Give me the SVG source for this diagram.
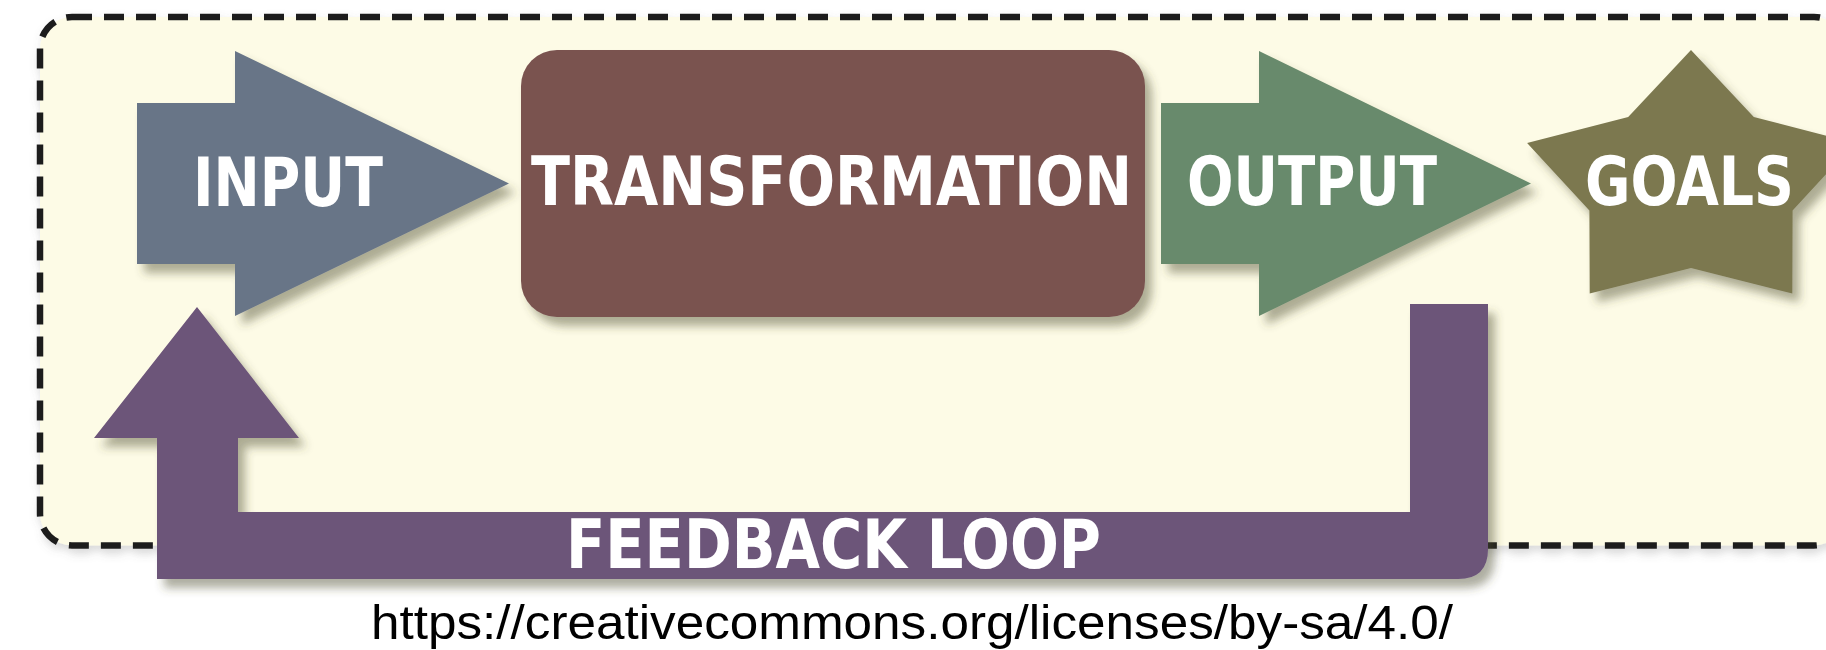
<svg xmlns="http://www.w3.org/2000/svg" width="1826" height="650" viewBox="0 0 1826 650">
  <defs>
    <filter id="shadow" x="-10%" y="-10%" width="130%" height="140%">
      <feDropShadow dx="7" dy="9" stdDeviation="5" flood-color="#4a4a2a" flood-opacity="0.45"/>
    </filter>
    <filter id="shadowSoft" x="-5%" y="-10%" width="110%" height="130%">
      <feDropShadow dx="2" dy="5" stdDeviation="4" flood-color="#666666" flood-opacity="0.25"/>
    </filter>
  </defs>
  <style>
    .label { font-family: "DejaVu Sans Condensed", "DejaVu Sans", "Liberation Sans", sans-serif; font-weight: bold; font-size: 67px; fill: #ffffff; }
    .url { font-family: "Liberation Sans", Arial, sans-serif; font-size: 49px; fill: #000000; }
    .frame { fill: #fdfbe6; stroke: #1e1e1e; stroke-width: 6.5; stroke-dasharray: 20 12; }
  </style>
  <rect width="1826" height="650" fill="#ffffff"/>
  <g id="system-boundary" filter="url(#shadowSoft)">
    <rect class="frame" x="40" y="17" width="1806" height="528.5" rx="32" ry="32"/>
  </g>

  <g id="connectors">
    <g id="feedback-loop" filter="url(#shadow)">
      <path d="M1410,304 L1488,304 L1488,549 Q1488,579 1458,579 L157,579 L157,438 L94,438 L197,307 L299,438 L238,438 L238,512 L1410,512 Z" fill="#6c5479"/>
      <text class="label" x="566" y="568" font-size="66" textLength="535" lengthAdjust="spacingAndGlyphs">FEEDBACK LOOP</text>
    </g>
  </g>

  <g id="input" filter="url(#shadow)">
    <polygon points="137,103 235,103 235,51 509,183.5 235,316 235,264 137,264" fill="#687587"/>
    <text class="label" x="193" y="206" textLength="190" lengthAdjust="spacingAndGlyphs">INPUT</text>
  </g>

  <g id="transformation" filter="url(#shadow)">
    <rect x="521" y="50" width="624" height="267" rx="36" ry="36" fill="#7a5250"/>
    <text class="label" x="531" y="205" textLength="601" lengthAdjust="spacingAndGlyphs">TRANSFORMATION</text>
  </g>

  <g id="output" filter="url(#shadow)">
    <polygon points="1161,103 1259,103 1259,51 1531,183.5 1259,316 1259,264 1161,264" fill="#688a6c"/>
    <text class="label" x="1187" y="205" textLength="250" lengthAdjust="spacingAndGlyphs">OUTPUT</text>
  </g>

  <g id="goals" filter="url(#shadow)">
    <polygon points="1691,50 1753.8,117 1854.9,143 1792.6,210.4 1792.3,293.5 1691,268.1 1589.7,293.5 1589.4,210.4 1527.1,143 1628.2,117" fill="#7c7850"/>
    <text class="label" x="1585" y="205" textLength="209" lengthAdjust="spacingAndGlyphs">GOALS</text>
  </g>

  <text class="url" x="371" y="639" textLength="1082" lengthAdjust="spacingAndGlyphs">https://creativecommons.org/licenses/by-sa/4.0/</text>
</svg>
